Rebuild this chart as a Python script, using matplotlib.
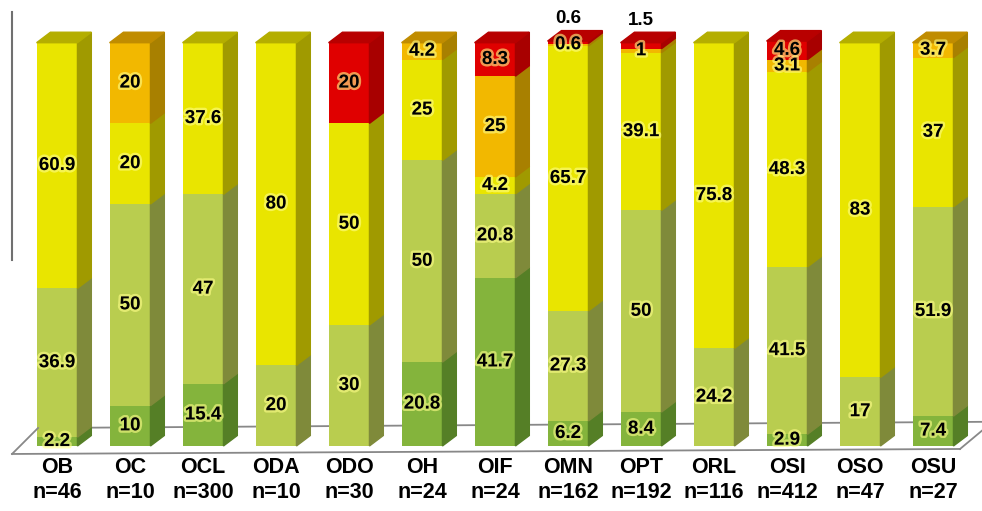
import matplotlib.pyplot as plt
from matplotlib.patches import Polygon
import matplotlib.patheffects as pe
import numpy as np

categories = ['OB', 'OC', 'OCL', 'ODA', 'ODO', 'OH', 'OIF', 'OMN', 'OPT', 'ORL', 'OSI', 'OSO', 'OSU']
counts = [46, 10, 300, 10, 30, 24, 24, 162, 192, 116, 412, 47, 27]

# stacked from bottom to top
dark_green = [2.2, 10, 15.4, 0, 0, 20.8, 41.7, 6.2, 8.4, 0, 2.9, 0, 7.4]
light_green = [36.9, 50, 47, 20, 30, 50, 20.8, 27.3, 50, 24.2, 41.5, 17, 51.9]
yellow = [60.9, 20, 37.6, 80, 50, 25, 4.2, 65.7, 39.1, 75.8, 48.3, 83, 37]
orange = [0, 20, 0, 0, 0, 4.2, 25, 0.6, 1, 0, 3.1, 0, 3.7]
red = [0, 0, 0, 0, 20, 0, 8.3, 0.6, 1.5, 0, 4.6, 0, 0]

series = [dark_green, light_green, yellow, orange, red]
# front, side, top
colors = [
    ('#84b43c', '#557f26', '#6a9630'),
    ('#b9cd4f', '#7f8a3a', '#a0b040'),
    ('#e9e500', '#a09a00', '#b4ae00'),
    ('#f2b800', '#a88000', '#c08c00'),
    ('#e00000', '#a80000', '#b80000'),
]

fig = plt.figure(figsize=(9.82, 5.11), dpi=100)
ax = fig.add_axes([0, 0, 1, 1])
ax.set_xlim(-0.781, 12.671)
ax.set_ylim(-16.12, 110.59)
ax.axis('off')

w = 0.56
dx = 0.19
dy = 2.6
glow = [pe.withStroke(linewidth=3.5, foreground='#ffff88', alpha=0.6)]
font = dict(fontweight='bold', family='Liberation Sans')

# floor
ax.plot([-0.26, 12.75], [4.46, 6.0], color='#888888', lw=1.3, zorder=0)
ax.plot([-0.616, -0.26], [-1.98, 4.46], color='#888888', lw=1.3, zorder=5)
ax.plot([-0.616, 12.37], [-1.98, -0.74], color='#888888', lw=1.3, zorder=5)
ax.plot([12.37, 12.75], [-0.74, 5.0], color='#888888', lw=1.3, zorder=5)
# leftover axis line
ax.plot([-0.616, -0.616], [46.1, 107.6], color='#707070', lw=1.5)

x = np.arange(len(categories))
for i in x:
    bottom = 0
    top_color = None
    for k, s in enumerate(series):
        h = s[i]
        if h <= 0:
            continue
        front, side, topc = colors[k]
        ax.bar(i, h, bottom=bottom, width=w, color=front, zorder=2)
        r = i + w / 2
        ax.add_patch(Polygon([(r, bottom), (r + dx, bottom + dy),
                              (r + dx, bottom + h + dy), (r, bottom + h)],
                             closed=True, color=side, zorder=2))
        bottom += h
        top_color = topc
    ax.add_patch(Polygon([(i - w / 2, bottom), (i - w / 2 + dx, bottom + dy),
                          (i + w / 2 + dx, bottom + dy), (i + w / 2, bottom)],
                         closed=True, color=top_color, zorder=2))

    # labels
    bottom = 0
    for k, s in enumerate(series):
        h = s[i]
        if h <= 0:
            continue
        yl = bottom + h / 2
        if k == 4 and h < 2:
            ax.text(i, bottom + h + 5.5, f'{h:g}', ha='center', va='center',
                    fontsize=13.5, zorder=6, **font)
        else:
            ax.text(i, yl, f'{h:g}', ha='center', va='center', fontsize=13.5,
                    zorder=6, path_effects=glow, **font)
        bottom += h

    ax.text(i, -5.3, categories[i], ha='center', va='center', fontsize=15.5, **font)
    ax.text(i, -11.6, f'n={counts[i]}', ha='center', va='center', fontsize=15.5, **font)

fig.savefig('out.png', dpi=100)
